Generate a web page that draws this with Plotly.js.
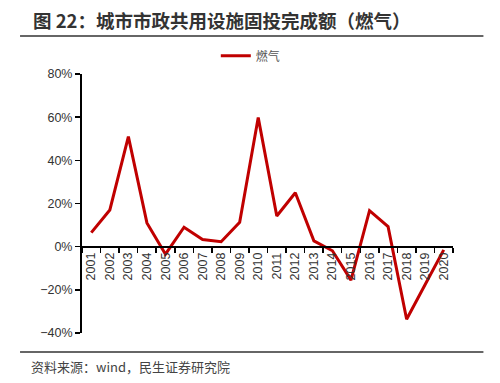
<!DOCTYPE html>
<html>
<head>
<meta charset="utf-8">
<script src="https://cdn.plot.ly/plotly-3.0.1.min.js"></script>
<style>html,body{margin:0;padding:0;background:#fff;}#chart{width:500px;height:383px;}</style>
</head>
<body>
<div id="chart"></div>
<script>
const years = ['2001','2002','2003','2004','2005','2006','2007','2008','2009','2010','2011','2012','2013','2014','2015','2016','2017','2018','2019','2020'];
const gasGrowth = [6.5, 17, 51, 11, -3.5, 9, 3.3, 2.3, 11.3, 59.8, 14.2, 25, 2.7, -1.9, -15.5, 16.7, 9.3, -33.6, -17.5, -1.5];
const seriesName = '燃气';
const titleText = '图 22：城市市政共用设施固投完成额（燃气）';
const sourceText = '资料来源：wind，民生证券研究院';

const FONT = '"Noto Sans CJK SC", "Noto Sans", Arial, sans-serif';
const NUMFONT = '"Liberation Sans", Arial, sans-serif';

const trace = {
  x: years,
  y: gasGrowth,
  type: 'scatter',
  mode: 'lines',
  name: seriesName,
  line: {color: '#C00000', width: 3}
};

const layout = {
  width: 500, height: 383,
  margin: {l: 82, r: 47, t: 74, b: 50},
  paper_bgcolor: '#fff', plot_bgcolor: '#fff',
  font: {family: FONT, color: '#333', size: 12},
  showlegend: true,
  legend: {orientation: 'h', x: 0.455, xanchor: 'center', y: 1.07, yanchor: 'middle',
           font: {size: 12, color: '#555'}, bgcolor: 'rgba(0,0,0,0)'},
  xaxis: {
    type: 'category',
    anchor: 'free', position: 1/3,
    showline: true, linecolor: '#000', linewidth: 2,
    ticks: 'outside', tickson: 'boundaries', ticklen: 5, tickcolor: '#000', tickwidth: 1.5,
    tickangle: -90, tickfont: {size: 12.5, color: '#333', family: NUMFONT},
    showgrid: false, zeroline: false,
    range: [-0.5, 19.5]
  },
  yaxis: {
    range: [-40, 80], dtick: 20, ticksuffix: '%',
    showline: true, linecolor: '#000', linewidth: 2,
    ticks: 'outside', ticklen: 5, tickcolor: '#000', tickwidth: 1.5,
    showgrid: false, zeroline: false,
    tickfont: {size: 12.5, color: '#333', family: NUMFONT}
  },
  shapes: [
    {type: 'line', xref: 'paper', yref: 'paper', x0: -0.167, x1: 1.082, y0: 1.147, y1: 1.147,
     line: {color: '#333', width: 1.5}},
    {type: 'line', xref: 'paper', yref: 'paper', x0: -0.167, x1: 1.082, y0: -0.073, y1: -0.073,
     line: {color: '#333', width: 1.5}}
  ],
  annotations: [
    {text: '<b>' + titleText + '</b>', xref: 'paper', yref: 'paper', x: -0.137, y: 1.208,
     xanchor: 'left', yanchor: 'middle', showarrow: false, font: {size: 18.5, color: '#333', family: FONT}},
    {text: sourceText, xref: 'paper', yref: 'paper', x: -0.143, y: -0.13,
     xanchor: 'left', yanchor: 'middle', showarrow: false, font: {size: 13, color: '#444', family: FONT}}
  ]
};

Plotly.newPlot('chart', [trace], layout, {displayModeBar: false, staticPlot: true});
</script>
</body>
</html>
